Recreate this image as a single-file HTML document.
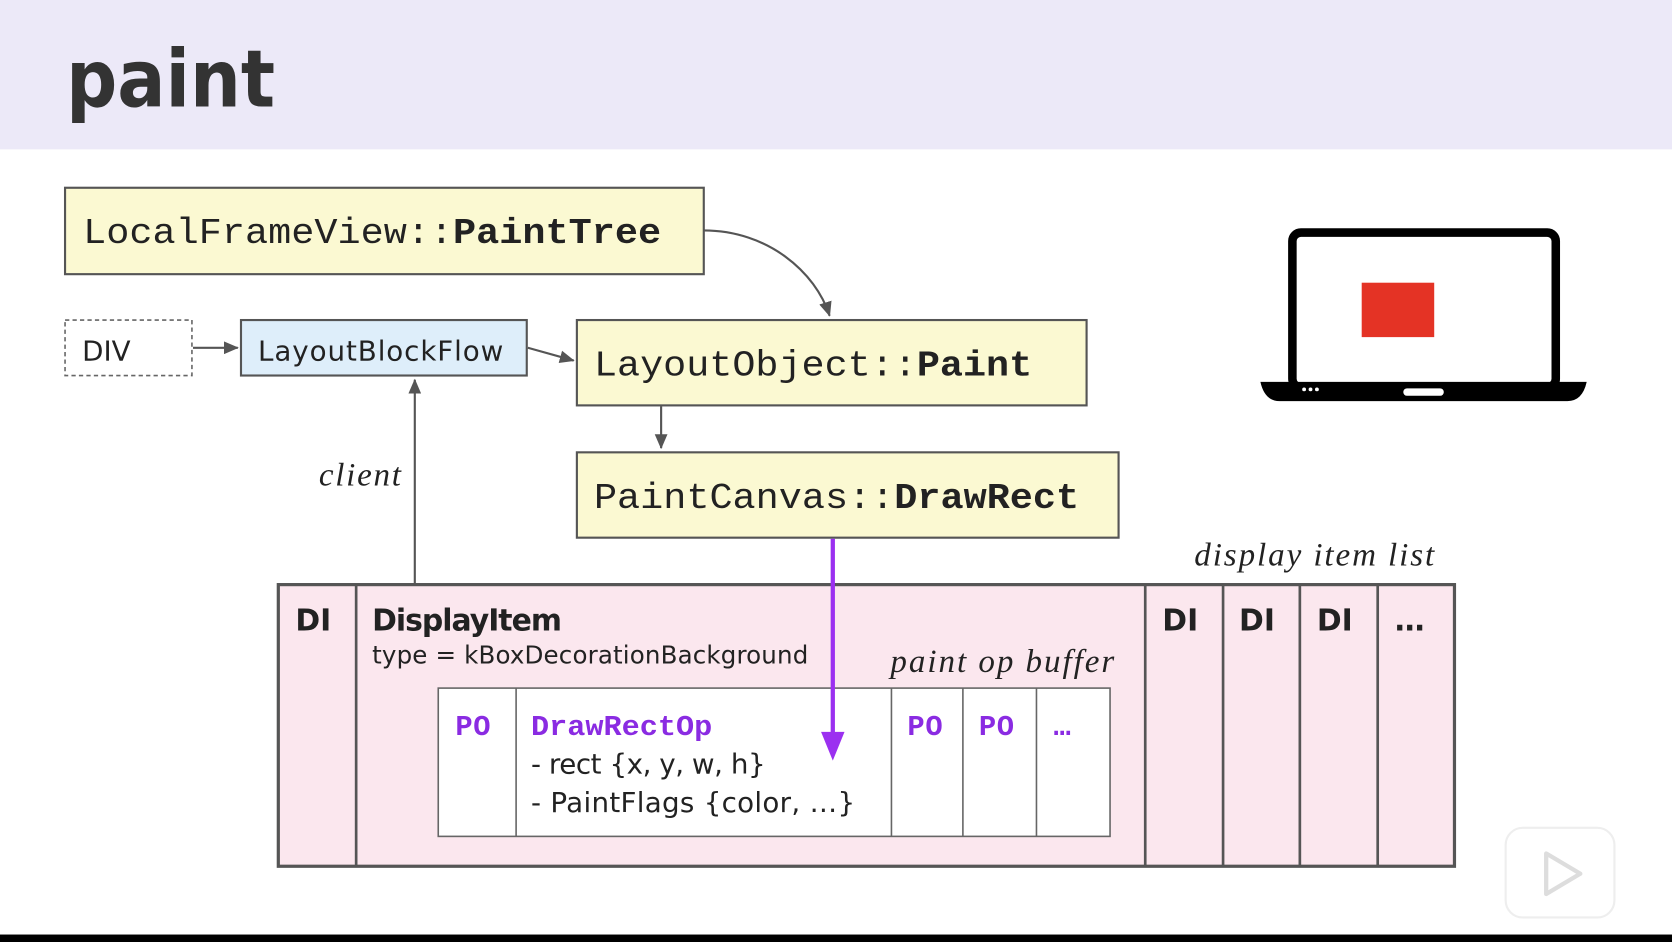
<!DOCTYPE html>
<html><head><meta charset="utf-8"><style>
html,body{margin:0;padding:0;background:#fff;width:1672px;height:942px;overflow:hidden}
svg{display:block}
.mono{font-family:"Liberation Mono","DejaVu Sans Mono",monospace}
.sans{font-family:"DejaVu Sans","Liberation Sans",sans-serif}
.ser{font-family:"Liberation Serif","DejaVu Serif",serif;font-style:italic}
</style></head><body>
<svg width="1672" height="942" viewBox="0 0 1568 883" preserveAspectRatio="none" xmlns="http://www.w3.org/2000/svg">
<defs>
<marker id="ah" markerWidth="14" markerHeight="12" refX="13" refY="6" orient="auto" markerUnits="userSpaceOnUse"><path d="M0,0 L14,6 L0,12 z" fill="#555"/></marker>
</defs>
<rect x="0" y="0" width="1568" height="140" fill="#ece9f8"/>
<text x="62" y="100" class="sans" font-size="74" font-weight="bold" fill="#333" textLength="196" lengthAdjust="spacingAndGlyphs">paint</text>
<rect x="0" y="876" width="1568" height="7" fill="#000"/>

<rect x="61" y="176" width="599" height="81" fill="#fbf9d2" stroke="#555" stroke-width="2"/>
<text x="78" y="228" class="mono" font-size="34" fill="#222" textLength="542" lengthAdjust="spacingAndGlyphs">LocalFrameView::<tspan font-weight="bold">PaintTree</tspan></text>

<rect x="61" y="300" width="119" height="52" fill="#fff" stroke="#666" stroke-width="1.5" stroke-dasharray="4,3"/>
<text x="77" y="338" class="sans" font-size="26" fill="#222">DIV</text>
<rect x="226" y="300" width="268" height="52" fill="#deeefa" stroke="#555" stroke-width="2"/>
<text x="242" y="338" class="sans" font-size="26" fill="#222" textLength="230">LayoutBlockFlow</text>

<rect x="541" y="300" width="478" height="80" fill="#fbf9d2" stroke="#555" stroke-width="2"/>
<text x="557" y="352" class="mono" font-size="34" fill="#222" textLength="411" lengthAdjust="spacingAndGlyphs">LayoutObject::<tspan font-weight="bold">Paint</tspan></text>
<rect x="541" y="424" width="508" height="80" fill="#fbf9d2" stroke="#555" stroke-width="2"/>
<text x="557" y="476" class="mono" font-size="34" fill="#222" textLength="455" lengthAdjust="spacingAndGlyphs">PaintCanvas::<tspan font-weight="bold">DrawRect</tspan></text>

<path d="M660,216 C720,216 765,255 778,296" fill="none" stroke="#555" stroke-width="2" marker-end="url(#ah)"/>
<line x1="181" y1="326" x2="223" y2="326" stroke="#555" stroke-width="2" marker-end="url(#ah)"/>
<line x1="495" y1="326" x2="538" y2="338" stroke="#555" stroke-width="2" marker-end="url(#ah)"/>
<line x1="620" y1="381" x2="620" y2="420" stroke="#555" stroke-width="2" marker-end="url(#ah)"/>
<line x1="389" y1="547" x2="389" y2="356" stroke="#555" stroke-width="2" marker-end="url(#ah)"/>
<text x="299" y="455" class="ser" font-size="31" fill="#222" textLength="77">client</text>
<text x="1120" y="530" class="ser" font-size="31" fill="#222" textLength="225">display item list</text>

<rect x="261" y="548" width="1103" height="264" fill="#fbe7ee" stroke="#555" stroke-width="3"/>
<g stroke="#555" stroke-width="2.5">
<line x1="334" y1="548" x2="334" y2="812"/><line x1="1074" y1="548" x2="1074" y2="812"/>
<line x1="1147" y1="548" x2="1147" y2="812"/><line x1="1219" y1="548" x2="1219" y2="812"/>
<line x1="1292" y1="548" x2="1292" y2="812"/>
</g>
<g class="sans" font-size="28" font-weight="bold" fill="#222">
<text x="277" y="591">DI</text><text x="1090" y="591">DI</text><text x="1162" y="591">DI</text><text x="1235" y="591">DI</text><text x="1308" y="591">…</text>
<text x="349" y="591" textLength="178">DisplayItem</text>
</g>
<text x="349" y="622" class="sans" font-size="23" fill="#222" textLength="409">type = kBoxDecorationBackground</text>
<text x="835" y="630" class="ser" font-size="31" fill="#222" textLength="210">paint op buffer</text>

<rect x="411" y="645" width="630" height="139" fill="#fff" stroke="#666" stroke-width="1.5"/>
<g stroke="#666" stroke-width="1.5">
<line x1="484" y1="645" x2="484" y2="784"/><line x1="836" y1="645" x2="836" y2="784"/>
<line x1="903" y1="645" x2="903" y2="784"/><line x1="972" y1="645" x2="972" y2="784"/>
</g>
<g class="mono" font-size="27" fill="#8a2be2" font-weight="bold">
<text x="427" y="689" textLength="33">PO</text><text x="498" y="689" textLength="170" lengthAdjust="spacingAndGlyphs">DrawRectOp</text>
<text x="851" y="689" textLength="33">PO</text><text x="918" y="689" textLength="33">PO</text><text x="988" y="689" textLength="28">…</text>
</g>
<text x="498" y="725" class="sans" font-size="26" fill="#222" textLength="220">- rect {x, y, w, h}</text>
<text x="498" y="761" class="sans" font-size="26" fill="#222" textLength="304">- PaintFlags {color, …}</text>

<line x1="781" y1="505" x2="781" y2="690" stroke="#9b30f0" stroke-width="4"/>
<path d="M770,686 L792,686 L781,713 z" fill="#9b30f0"/>

<rect x="1212" y="218" width="247" height="145" rx="8" fill="#fff" stroke="#000" stroke-width="8"/>
<rect x="1277" y="265" width="68" height="51" fill="#e43325"/>
<path d="M1182,358 L1488,358 Q1484,376 1470,376 L1200,376 Q1186,376 1182,358 z" fill="#000"/>
<rect x="1316" y="364" width="38" height="7" rx="3.5" fill="#fff"/>
<circle cx="1223" cy="365" r="1.8" fill="#fff"/><circle cx="1229" cy="365" r="1.8" fill="#fff"/><circle cx="1235" cy="365" r="1.8" fill="#fff"/>

<rect x="1412" y="776" width="102" height="84" rx="16" fill="#fff" stroke="#eee" stroke-width="2"/>
<path d="M1450,800 L1482,819 L1450,838 z" fill="none" stroke="#ddd" stroke-width="4" stroke-linejoin="round"/>
</svg>
</body></html>
